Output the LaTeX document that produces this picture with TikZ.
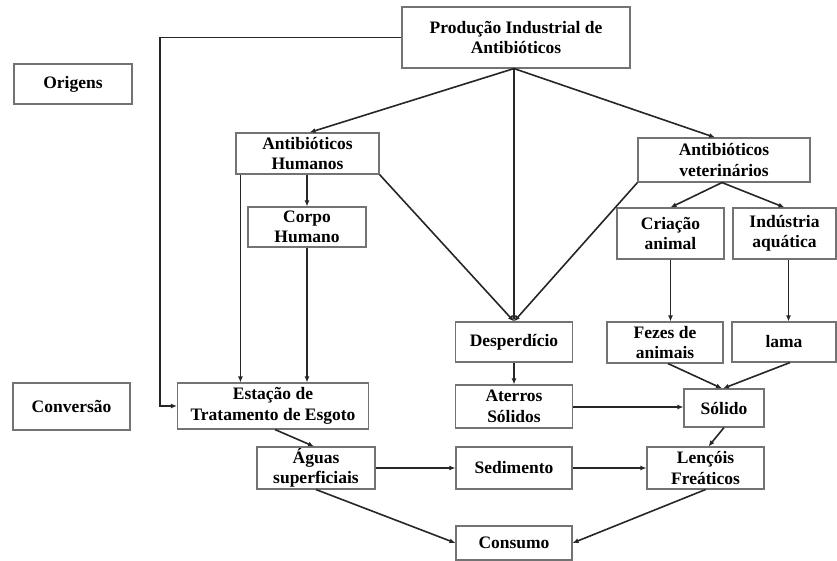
\documentclass[tikz,border=0pt]{standalone}
\usepackage{fontspec}
\setmainfont{Liberation Serif}
\usetikzlibrary{arrows.meta,calc}
\begin{document}
\begin{tikzpicture}[x=1pt,y=-1pt,
  box/.style={draw=black!55,line width=1.1pt,fill=white,inner sep=0pt,align=center,
    font=\fontsize{17.5}{20.5}\selectfont\bfseries},
  conn/.style={line width=1.6pt,draw=black!85},
  arr/.style={conn,-{Latex[length=6pt,width=5pt]}}]
\useasboundingbox (0,0) rectangle (837,560);
% boxes
\node[box,minimum width=228,minimum height=61] (prod) at (516,37.5) {Produção Industrial de\\Antibióticos};
\node[box,minimum width=118,minimum height=40] (orig) at (73,84) {Origens};
\node[box,minimum width=117,minimum height=47] (conv) at (71.5,406.5) {Conversão};
\node[box,minimum width=143,minimum height=41] (ah) at (307.5,153.5) {Antibióticos\\Humanos};
\node[box,minimum width=118,minimum height=40] (corpo) at (307,227) {Corpo\\Humano};
\node[box,minimum width=172,minimum height=44] (av) at (724,160) {Antibióticos\\veterinários};
\node[box,minimum width=107,minimum height=51] (cria) at (670.5,233.5) {Criação\\animal};
\node[box,minimum width=103,minimum height=51] (indu) at (784.5,233.5) {Indústria\\aquática};
\node[box,minimum width=117,minimum height=40] (desp) at (514,342) {Desperdício};
\node[box,minimum width=116,minimum height=41] (fezes) at (665,342.5) {Fezes de\\animais};
\node[box,minimum width=104,minimum height=40] (lama) at (784,342) {lama};
\node[box,minimum width=191,minimum height=46] (est) at (273,406) {Estação de\\Tratamento de Esgoto};
\node[box,minimum width=117,minimum height=43] (ater) at (514,406.5) {Aterros\\Sólidos};
\node[box,minimum width=80,minimum height=38] (sol) at (724,408) {Sólido};
\node[box,minimum width=118,minimum height=42] (aguas) at (316,468) {Águas\\superficiais};
\node[box,minimum width=116,minimum height=42] (sed) at (514,468) {Sedimento};
\node[box,minimum width=117,minimum height=42] (lenc) at (705.5,468) {Lençóis\\Freáticos};
\node[box,minimum width=116,minimum height=34,text depth=0pt] (cons) at (514,543) {Consumo};
% helper coordinates
\coordinate (pb) at ($(prod.south)+(-2,0)$);
\coordinate (avb) at ($(av.south)+(-2,0)$);
\coordinate (ahl) at ($(ah.south west)+(5,0)$);
\coordinate (indr) at ($(indu.south)+(4,0)$);
% connectors
\draw[arr] (prod.west) -- (160,37.5) |- (est.west);
\draw[arr] (pb) -- ($(ah.north)+(2,0)$);
\draw[arr] (pb) -- ($(av.north)+(-9,0)$);
\draw[arr] (pb) -- (pb |- desp.north);
\draw[arr] (ah.south east) -- (pb |- desp.north);
\draw[arr] (av.south west) -- (pb |- desp.north);
\draw[arr] (ah.south -| corpo.north) -- (corpo.north);
\draw[arr] (ahl) -- (ahl |- est.north);
\draw[arr] (corpo.south) -- (corpo.south |- est.north);
\draw[arr] (avb) -- (cria.north);
\draw[arr] (avb) -- (indu.north);
\draw[arr] (cria.south) -- (cria.south |- fezes.north);
\draw[arr] (indr) -- (indr |- lama.north);
\draw[arr] (desp.south) -- (ater.north);
\draw[arr] ($(fezes.south)+(3,0)$) -- ($(sol.north)+(-2,0)$);
\draw[arr] ($(lama.south)+(6,0)$) -- ($(sol.north)+(-1,0)$);
\draw[arr] (ater.east |- 0,407) -- (sol.west |- 0,407);
\draw[arr] ($(est.south)+(2,0)$) -- ($(aguas.north)+(-2,0)$);
\draw[arr] (sol.south) -- ($(lenc.north)+(3,0)$);
\draw[arr] (aguas.east) -- (sed.west);
\draw[arr] (sed.east) -- (lenc.west);
\draw[arr] (aguas.south) -- (cons.west);
\draw[arr] (lenc.south) -- (cons.east);
\end{tikzpicture}
\end{document}
